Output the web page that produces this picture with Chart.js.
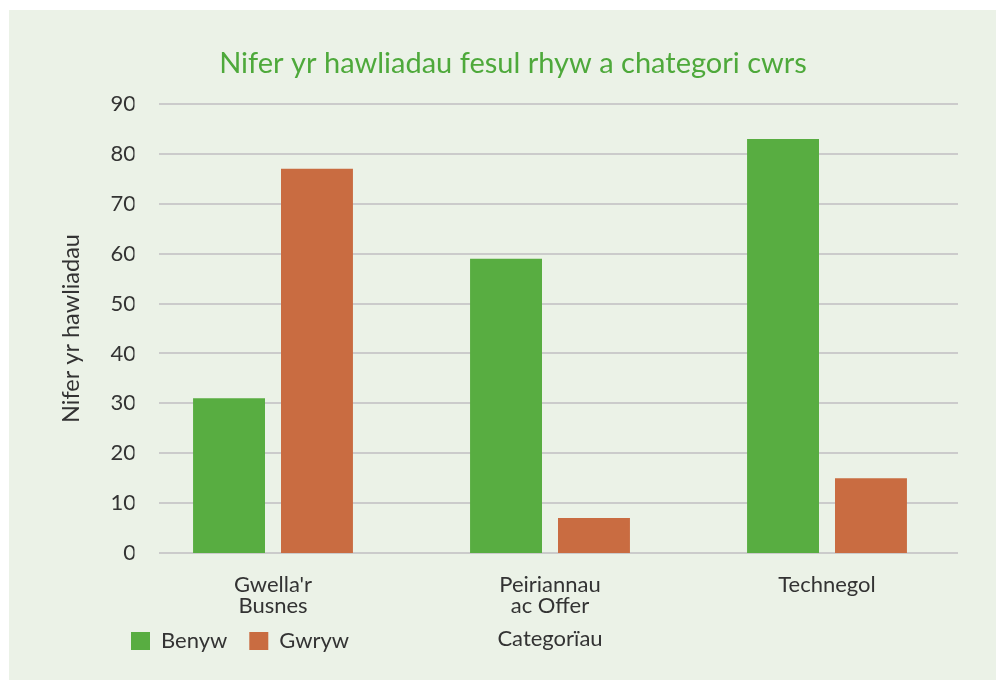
<!DOCTYPE html>
<html>
<head>
<meta charset="utf-8">
<script src="https://cdn.jsdelivr.net/npm/chart.js@4"></script>
<style>
  html, body { margin: 0; padding: 0; background: #ffffff; }
  #wrap { position: absolute; left: 9px; top: 10px; width: 987px; height: 670px; background: #ebf2e7; }
</style>
</head>
<body>
<div id="wrap"><canvas id="chart" width="987" height="670"></canvas></div>
<script>
// Nifer yr hawliadau fesul rhyw a chategori cwrs
const categories = [["Gwella'r", "Busnes"], ["Peiriannau", "ac Offer"], ["Technegol"]];
const seriesNames = ['Benyw', 'Gwryw'];
const benyw = [31, 59, 83];
const gwryw = [77, 7, 15];
const yTicks = [0, 10, 20, 30, 40, 50, 60, 70, 80, 90];

const GREEN = '#58ad41';
const ORANGE = '#c96c41';
const TEXT = '#333333';

// grid lines run a bit narrower than the category band (like the original)
const gridLines = {
    id: 'gridLines',
    beforeDatasetsDraw(chart) {
        const y = chart.scales.y;
        const ctx = chart.ctx;
        ctx.save();
        ctx.strokeStyle = '#cbcbcb';
        ctx.lineWidth = 2;
        yTicks.forEach(v => {
            const py = Math.round(y.getPixelForValue(v));
            ctx.beginPath();
            ctx.moveTo(150, py);
            ctx.lineTo(949, py);
            ctx.stroke();
        });
        ctx.restore();
    }
};

// legend shares the row with the axis title, left aligned under the plot
const legendShift = {
    id: 'legendShift',
    afterLayout(chart) {
        const lg = chart.legend;
        lg.left += 48.5;
        lg.top -= 7;
        lg.bottom -= 7;
    }
};

Chart.defaults.font.family = "'Lato', sans-serif";
Chart.defaults.color = TEXT;

new Chart(document.getElementById('chart'), {
    type: 'bar',
    data: {
        labels: categories,
        datasets: [
            { label: seriesNames[0], data: benyw, backgroundColor: GREEN, categoryPercentage: 0.635, barPercentage: 0.818 },
            { label: seriesNames[1], data: gwryw, backgroundColor: ORANGE, categoryPercentage: 0.635, barPercentage: 0.818 }
        ]
    },
    options: {
        responsive: false,
        animation: false,
        layout: { padding: { left: 51.5, right: 30.5, top: 0, bottom: 11 } },
        scales: {
            x: {
                grid: { display: false, drawTicks: false },
                border: { display: false },
                ticks: { padding: 21, color: TEXT, font: { size: 22, lineHeight: '21px' }, maxRotation: 0 },
                title: {
                    display: true,
                    text: 'Categorïau',
                    color: TEXT,
                    font: { size: 22, lineHeight: 1.2 },
                    padding: { top: 0, bottom: -37.2 }
                },
                afterFit(scale) { scale.height = 62; }
            },
            y: {
                min: 0,
                max: 90,
                grid: { display: false, drawTicks: false },
                border: { display: false },
                ticks: { stepSize: 10, padding: -1.5, color: TEXT, font: { size: 22 } },
                title: {
                    display: true,
                    text: 'Nifer yr hawliadau',
                    color: TEXT,
                    font: { size: 23.5, lineHeight: 1.2 },
                    padding: { top: -3.6, bottom: 0 }
                },
                afterFit(scale) { scale.width = 74; }
            }
        },
        plugins: {
            title: {
                display: true,
                text: 'Nifer yr hawliadau fesul rhyw a chategori cwrs',
                color: '#4ea93b',
                font: { size: 29, weight: 'normal', lineHeight: 1.2 },
                padding: { top: 36.1, bottom: 23.1 }
            },
            legend: {
                position: 'bottom',
                align: 'start',
                labels: {
                    boxWidth: 19,
                    boxHeight: 18,
                    padding: 22,
                    color: TEXT,
                    font: { size: 22 }
                }
            },
            tooltip: { enabled: false }
        }
    },
    plugins: [gridLines, legendShift]
});
</script>
</body>
</html>
